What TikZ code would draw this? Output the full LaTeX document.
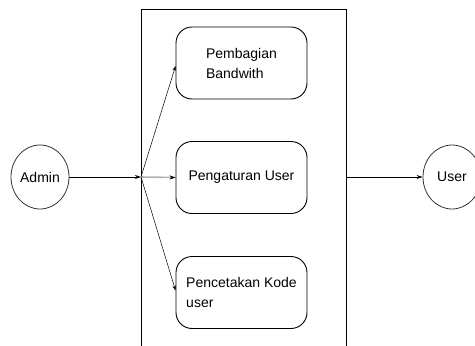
\documentclass[tikz,border=0pt]{standalone}
\usepackage{fontspec}
\setmainfont{Liberation Sans}
\usetikzlibrary{arrows.meta,shapes.geometric}
\begin{document}
\begin{tikzpicture}[x=1pt,y=-1pt,
  actor/.style={draw=black!80,line width=0.8pt,ellipse,minimum width=58pt,minimum height=64pt,inner sep=0pt,font=\fontsize{14}{16}\selectfont},
  proc/.style={draw=black,line width=0.9pt,rounded corners=16pt,minimum width=131pt,minimum height=72pt,inner sep=0pt,align=left,font=\fontsize{14}{20}\selectfont},
  arr/.style={-{Stealth[length=6pt,width=4pt]},line width=0.9pt},
  thin arr/.style={-{Stealth[length=5pt,width=3.5pt]},line width=0.5pt},
  gray arr/.style={-{Stealth[length=6pt,width=4pt,color=black,line width=0.5pt]},line width=1.6pt,black!30}]
\useasboundingbox (0,0) rectangle (475,346);
\draw[line width=1pt] (141,346) -- (141,9) -- (346,9) -- (346,346);
\node[actor] (admin) at (40,177) {Admin};
\node[actor] (user) at (452,177) {User};
\node[proc] (b1) at (241.5,63) {Pembagian\\Bandwith};
\node[proc] (b2) at (241.5,177.5) {Pengaturan User};
\node[proc] (b3) at (241.5,292.5) {Pencetakan Kode\\user};
\coordinate (j) at (141,177);
\coordinate (r) at (346,177);
\draw[arr] (admin) -- (j);
\draw[gray arr] (j) -- (b2.west);
\draw[thin arr] (j) -- ([yshift=-3pt]b1.west);
\draw[thin arr] (j) -- ([yshift=2pt]b3.west);
\draw[arr] (r) -- (user);
\end{tikzpicture}
\end{document}
